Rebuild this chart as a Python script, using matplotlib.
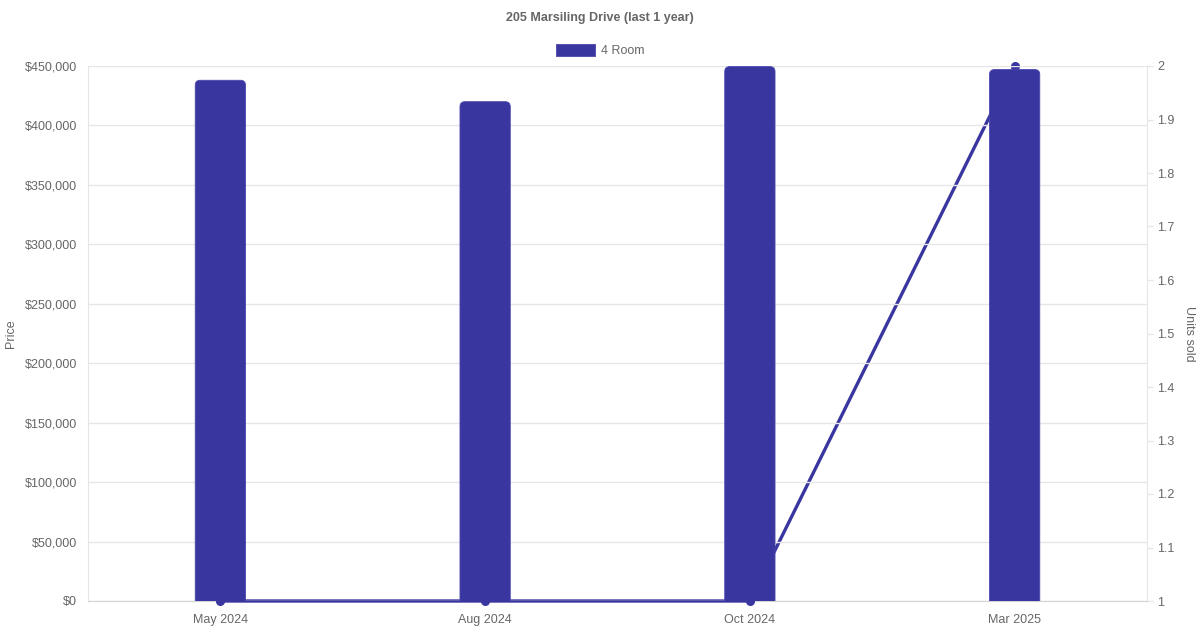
import matplotlib
matplotlib.use("Agg")
import matplotlib.pyplot as plt
from matplotlib.patches import FancyBboxPatch, Rectangle
from matplotlib.ticker import FuncFormatter, MultipleLocator

plt.rcParams['font.family'] = ['Liberation Sans', 'DejaVu Sans']

categories = ["May 2024", "Aug 2024", "Oct 2024", "Mar 2025"]
prices = [438000, 420000, 449500, 447000]
units_sold = [1, 1, 1, 2]
series_name = "4 Room"
title = "205 Marsiling Drive (last 1 year)"

COLOR = "#3a36a0"
GRID = "#e6e6e6"
TXT = "#666666"
FS = 9.0
W, H = 1200, 630

fig = plt.figure(figsize=(W / 100, H / 100), dpi=100)
L, R, T, B = 88, 1147, 66, 601
ax = fig.add_axes([L / W, 1 - B / H, (R - L) / W, (B - T) / H])
ax2 = ax.twinx()

x = list(range(len(categories)))
ax.set_xlim(-0.5, len(categories) - 0.5)
ax.set_ylim(0, 450000)
ax2.set_ylim(1, 2)

# line on secondary axis, drawn beneath bars
ax2.plot(x, units_sold, color=COLOR, lw=2.4, marker='o', ms=5.5, clip_on=False, zorder=3)
ax.set_zorder(ax2.get_zorder() + 1)
ax.patch.set_visible(False)

bar_w = 0.19
bars = ax.bar(x, prices, width=bar_w, color=COLOR, alpha=0)
px_x = (len(categories)) / (R - L)
px_y = 450000 / (B - T)
rad = 5 * px_x
for b in bars:
    x0 = b.get_x()
    h = b.get_height()
    p = FancyBboxPatch((x0, -8 * px_y), bar_w, h + 8 * px_y,
                       boxstyle=f"round,pad=0,rounding_size={rad}",
                       mutation_aspect=px_y / px_x,
                       facecolor=COLOR, edgecolor="#4b48ad", lw=0.6, zorder=3)
    p.set_clip_path(ax.patch)
    ax.add_patch(p)

ax.yaxis.set_major_locator(MultipleLocator(50000))
ax.yaxis.set_major_formatter(FuncFormatter(lambda v, _: f"${v:,.0f}"))
ax.grid(axis='y', color=GRID, lw=1)
ax.set_axisbelow(True)
ax.set_xticks(x)
ax.set_xticklabels(categories)
ax.tick_params(axis='x', length=0, pad=9.5, colors=TXT, labelsize=FS)
ax.tick_params(axis='y', length=0, pad=8, colors=TXT, labelsize=FS)

ax2.yaxis.set_major_locator(MultipleLocator(0.1))
ax2.yaxis.set_major_formatter(FuncFormatter(lambda v, _: f"{v:g}"))
ax2.tick_params(axis='y', length=4.5, width=1, pad=3, colors=TXT, labelsize=FS)
ax2.tick_params(axis='y', color=GRID)

for s in ['top', 'left', 'right', 'bottom']:
    ax.spines[s].set_visible(False)
ax2.spines['top'].set_visible(False)
ax2.spines['left'].set_color(GRID)
ax2.spines['right'].set_color(GRID)
ax2.spines['bottom'].set_color("#d4d4d4")

ax.set_ylabel("Price", color=TXT, fontsize=FS)
ax2.set_ylabel("Units sold", color=TXT, fontsize=FS, rotation=270)
ax.yaxis.set_label_coords(-(L - 11) / (R - L), 0.5)
ax2.yaxis.set_label_coords(1 + (1189 - R) / (R - L), 0.5)
ax2.yaxis.label.set_va('center')
ax.yaxis.label.set_va('center')

fig.text(600 / W, 1 - 17.5 / H, title, ha='center', va='center', fontsize=FS,
         fontweight='bold', color=TXT)
fig.patches.append(Rectangle((556 / W, 1 - 56 / H), 39 / W, 12 / H, transform=fig.transFigure,
                             facecolor=COLOR, edgecolor="#4b48ad", lw=0.6))
fig.text(601 / W, 1 - 50.5 / H, series_name, ha='left', va='center', fontsize=FS, color=TXT)

fig.savefig("out.png", dpi=100)
